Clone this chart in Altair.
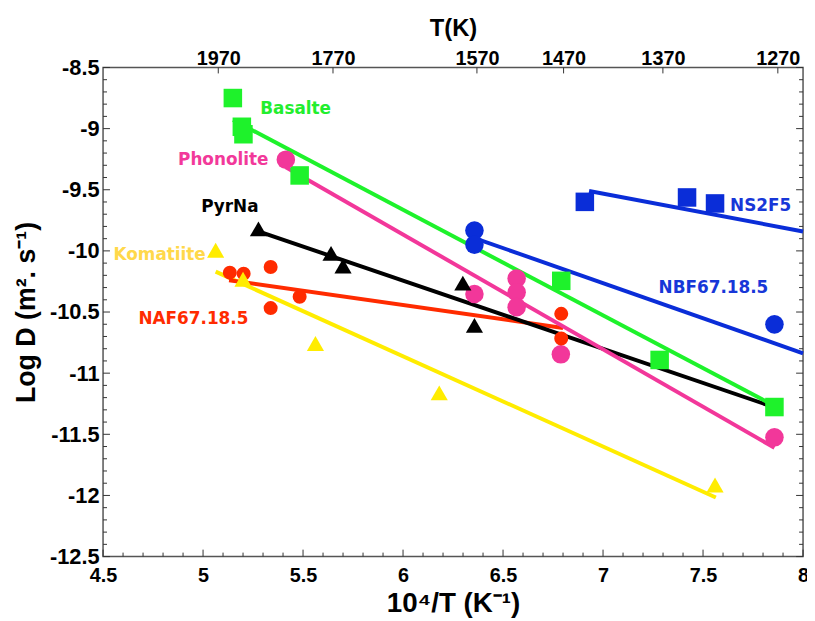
import altair as alt
import pandas as pd

# ---------------- data ----------------
series = ["Basalte", "Phonolite", "PyrNa", "Komatiite", "NAF67.18.5", "NBF67.18.5", "NS2F5"]
series_colors = ["#1ef22b", "#f2379a", "#000000", "#ffec00", "#ff2b00", "#0a2dd8", "#0a2dd8"]

basalte_x = [5.149, 5.194, 5.202, 5.483, 6.791, 7.283, 7.857]
basalte_y = [-8.75, -8.985, -9.046, -9.383, -10.245, -10.892, -11.277]
phonolite_x = [5.414, 6.357, 6.568, 6.568, 6.568, 6.789, 7.857]
phonolite_y = [-9.254, -10.353, -10.226, -10.339, -10.46, -10.846, -11.525]
pyrna_x = [5.277, 5.64, 5.70, 6.299, 6.357]
pyrna_y = [-9.82, -10.02, -10.124, -10.264, -10.609]
komatiite_x = [5.063, 5.20, 5.562, 6.181, 7.56]
komatiite_y = [-9.995, -10.232, -10.757, -11.161, -11.915]
naf_x = [5.134, 5.203, 5.338, 5.338, 5.483, 6.791, 6.791]
naf_y = [-10.178, -10.186, -10.132, -10.468, -10.375, -10.515, -10.717]
nbf_x = [6.357, 6.357, 7.857]
nbf_y = [-9.833, -9.949, -10.601]
ns2f5_x = [6.909, 7.42, 7.56]
ns2f5_y = [-9.599, -9.563, -9.612]

# fitted lines: start / end points
fit_basalte_x = [5.15, 7.86]
fit_basalte_y = [-8.93, -11.27]
fit_phonolite_x = [5.414, 7.857]
fit_phonolite_y = [-9.316, -11.61]
fit_pyrna_x = [5.277, 7.84]
fit_pyrna_y = [-9.84, -11.27]
fit_komatiite_x = [5.063, 7.564]
fit_komatiite_y = [-10.17, -12.017]
fit_naf_x = [5.13, 6.80]
fit_naf_y = [-10.24, -10.63]
fit_nbf_x = [6.357, 8.0]
fit_nbf_y = [-9.895, -10.838]
fit_ns2f5_x = [6.93, 8.0]
fit_ns2f5_y = [-9.51, -9.841]

# in-plot labels
label_text = ["Basalte", "Phonolite", "PyrNa", "Komatiite", "NAF67.18.5", "NS2F5", "NBF67.18.5"]
label_x = [5.463, 5.101, 5.134, 4.783, 4.952, 7.788, 7.552]
label_y = [-8.844, -9.256, -9.639, -10.038, -10.555, -9.631, -10.307]
label_colors = ["#22ee2e", "#f2399a", "#000000", "#ffd84a", "#ff2b00", "#1737d8", "#1737d8"]

# axes
x_major = [4.5, 5.0, 5.5, 6.0, 6.5, 7.0, 7.5, 8.0]
x_minor = [round(4.5 + 0.1 * i, 1) for i in range(1, 35) if i % 5]
y_major = [-12.5, -12.0, -11.5, -11.0, -10.5, -10.0, -9.5, -9.0, -8.5]
y_minor = [round(-12.5 + 0.1 * i, 1) for i in range(1, 40) if i % 5]
t_labels = [1970, 1770, 1570, 1470, 1370, 1270]

# ---------------- tables ----------------
pts = pd.concat([
    pd.DataFrame({"series": s, "x": xs, "y": ys})
    for s, xs, ys in [
        ("Basalte", basalte_x, basalte_y), ("Phonolite", phonolite_x, phonolite_y),
        ("PyrNa", pyrna_x, pyrna_y), ("Komatiite", komatiite_x, komatiite_y),
        ("NAF67.18.5", naf_x, naf_y), ("NBF67.18.5", nbf_x, nbf_y), ("NS2F5", ns2f5_x, ns2f5_y)]
], ignore_index=True)

fits = pd.concat([
    pd.DataFrame({"series": s, "x": xs, "y": ys})
    for s, xs, ys in [
        ("Komatiite", fit_komatiite_x, fit_komatiite_y), ("NAF67.18.5", fit_naf_x, fit_naf_y),
        ("PyrNa", fit_pyrna_x, fit_pyrna_y), ("Phonolite", fit_phonolite_x, fit_phonolite_y),
        ("Basalte", fit_basalte_x, fit_basalte_y), ("NBF67.18.5", fit_nbf_x, fit_nbf_y),
        ("NS2F5", fit_ns2f5_x, fit_ns2f5_y)]
], ignore_index=True)

labels = pd.DataFrame({"label": label_text, "x": label_x, "y": label_y})

W, H = 707, 494
FONT = "Liberation Sans"

xscale = alt.Scale(domain=[4.5, 8], nice=False, zero=False)
yscale = alt.Scale(domain=[-12.5, -8.5], nice=False, zero=False)
cscale = alt.Scale(domain=series, range=series_colors)

x_axis = alt.Axis(orient="bottom", values=x_major, labelExpr="'' + datum.value",
                  ticks=False, tickSize=0, domain=False, grid=False,
                  labelFont=FONT, labelFontSize=20, labelFontWeight="bold", labelColor="#000",
                  labelPadding=9, labelFlush=False, labelOverlap=False,
                  title="10⁴/T (K⁻¹)", titleFont=FONT, titleFontSize=28, titleFontWeight="bold",
                  titleColor="#000", titlePadding=4)
y_axis = alt.Axis(orient="left", values=y_major, labelExpr="'' + datum.value",
                  ticks=False, tickSize=0, domain=False, grid=False,
                  labelFont=FONT, labelFontSize=22, labelFontWeight="bold", labelColor="#000",
                  labelPadding=4, labelFlush=False, labelOverlap=False,
                  title="Log D (m². s⁻¹)", titleFont=FONT, titleFontSize=27, titleFontWeight="bold",
                  titleColor="#000", titlePadding=9)
top_axis = alt.Axis(orient="top", values=[1e4 / t for t in t_labels],
                    labelExpr="'' + round(10000 / datum.value)",
                    ticks=False, tickSize=0, domain=False, grid=False,
                    labelFont=FONT, labelFontSize=20, labelFontWeight="bold", labelColor="#000",
                    labelBaseline="alphabetic", labelPadding=3, labelFlush=False, labelOverlap=False,
                    title="T(K)", titleFont=FONT, titleFontSize=24, titleFontWeight="bold",
                    titleColor="#000", titlePadding=8)

lines = alt.Chart(fits).mark_line(strokeWidth=4, strokeCap="butt").encode(
    x=alt.X("x:Q", scale=xscale, axis=x_axis),
    y=alt.Y("y:Q", scale=yscale, axis=y_axis),
    color=alt.Color("series:N", scale=cscale, legend=None),
    detail="series:N",
)


def markers(names, shape, size):
    return alt.Chart(pts).transform_filter(
        alt.FieldOneOfPredicate(field="series", oneOf=names)
    ).mark_point(filled=True, opacity=1, shape=shape, size=size).encode(
        x=alt.X("x:Q", scale=xscale, axis=None),
        y=alt.Y("y:Q", scale=yscale, axis=None),
        color=alt.Color("series:N", scale=cscale, legend=None),
    )


squares = markers(["Basalte", "NS2F5"], "square", 350)
big_circles = markers(["Phonolite", "NBF67.18.5"], "circle", 350)
small_circles = markers(["NAF67.18.5"], "circle", 200)
triangles = markers(["PyrNa", "Komatiite"], "triangle-up", 300)

texts = alt.Chart(labels).mark_text(font="DejaVu Sans", fontSize=17, fontWeight="bold",
                                    align="center", baseline="middle").encode(
    x=alt.X("x:Q", scale=xscale, axis=None),
    y=alt.Y("y:Q", scale=yscale, axis=None),
    text=alt.Text("label:N"),
    color=alt.Color("label:N", scale=alt.Scale(domain=label_text, range=label_colors), legend=None),
)

TICK = "#333333"


def xticks(vals, y0, y1):
    return alt.Chart(pd.DataFrame({"v": vals})).mark_rule(color=TICK, strokeWidth=1).encode(
        x=alt.X("v:Q", scale=xscale, axis=None), y=alt.value(y0), y2=alt.value(y1))


def yticks(vals, x0, x1):
    return alt.Chart(pd.DataFrame({"v": vals})).mark_rule(color=TICK, strokeWidth=1).encode(
        y=alt.Y("v:Q", scale=yscale, axis=None), x=alt.value(x0), x2=alt.value(x1))


tick_layers = [
    xticks(x_major, H, H - 7), xticks(x_minor, H, H - 4),
    yticks(y_major, 0, 7), yticks(y_minor, 0, 4),
    yticks(y_major, W, W - 7), yticks(y_minor, W, W - 4),
]

top = alt.Chart(pd.DataFrame({"xt": [1e4 / t for t in t_labels]})).mark_rule(
    color=TICK, strokeWidth=1).encode(
    x=alt.X("xt:Q", scale=xscale, axis=top_axis), y=alt.value(0), y2=alt.value(6))

chart = alt.layer(
    lines, squares, big_circles, small_circles, triangles, texts, *tick_layers, top
).resolve_axis(x="independent", y="independent").resolve_scale(color="independent").properties(
    width=W, height=H,
    autosize=alt.AutoSizeParams(type="none"),
    padding={"left": 96, "top": 57, "right": 4, "bottom": 62},
).configure_view(stroke="#555555", strokeWidth=1.5)

chart.save("out.html", embed_options={"renderer": "svg", "actions": False})
